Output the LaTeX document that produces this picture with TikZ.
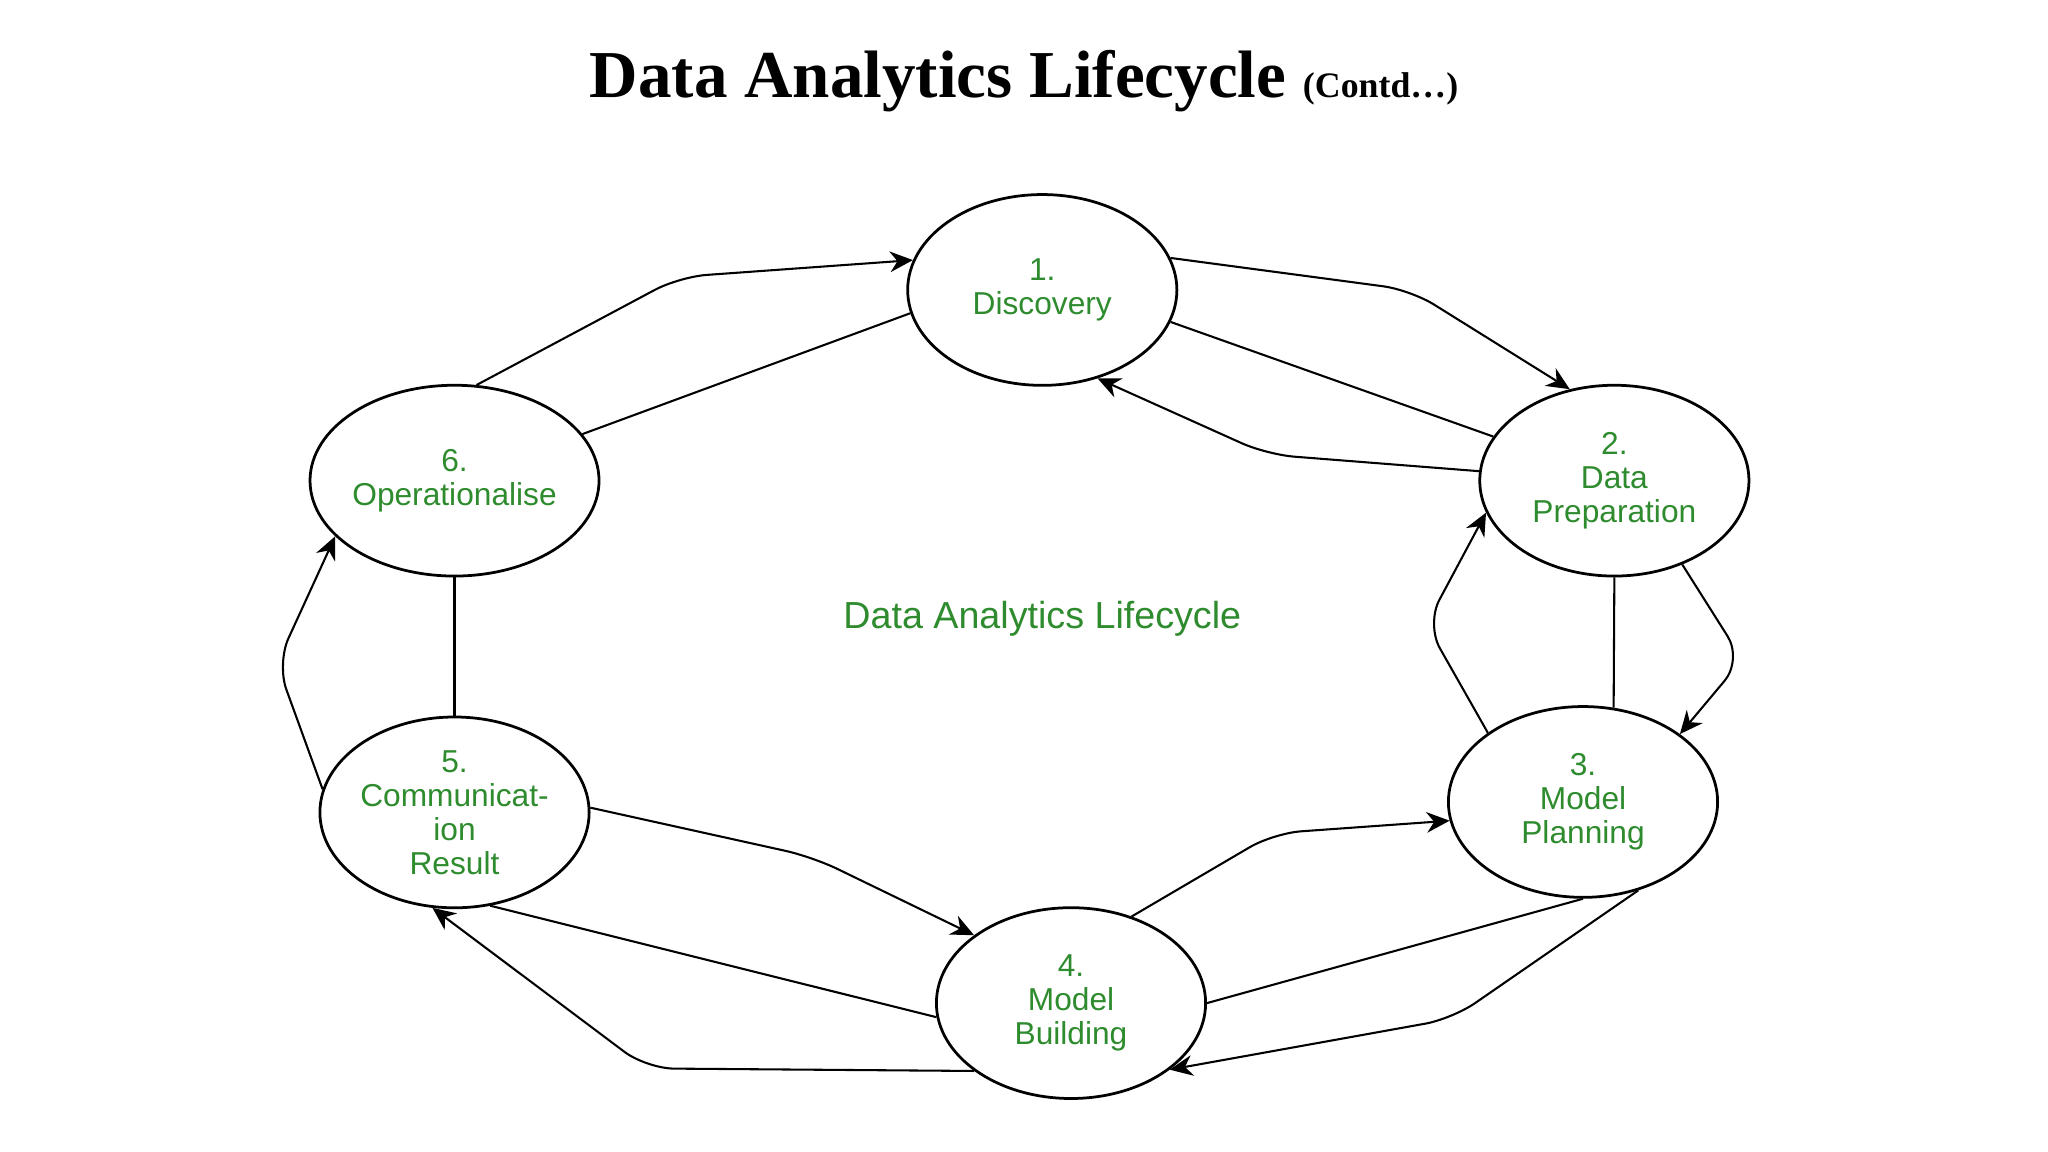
\documentclass[tikz,border=0pt]{standalone}
\usepackage{fontspec}
\setmainfont{Liberation Serif}
\newfontfamily\lsans{Liberation Sans}
\usetikzlibrary{shapes.geometric,arrows.meta}
\definecolor{lbl}{HTML}{2E8B2E}
\begin{document}
\begin{tikzpicture}[x=0.01cm,y=-0.01cm,
  st/.style={ellipse,draw,line width=0.6pt,minimum width=2.06cm,minimum height=1.46cm,inner sep=0pt,align=center,text=lbl,font=\lsans\fontsize{6.9}{7.4}\selectfont},
  ln/.style={draw,line width=0.45pt,rounded corners=6pt},
  ar/.style={ln,-{Stealth[length=5pt,width=4.5pt]}}]
\useasboundingbox (0,0) rectangle (1568,882);
\node[font=\bfseries\fontsize{14.6}{16}\selectfont] (t) at (784,62) {Data Analytics Lifecycle {\fontsize{7.8}{9}\selectfont (Contd\dots)}};
\node[st] (n1) at (798,222) {1.\\Discovery};
\node[st] (n2) at (1236,368) {2.\\Data\\Preparation};
\node[st] (n3) at (1212,614) {3.\\Model\\Planning};
\node[st] (n4) at (820,768) {4.\\Model\\Building};
\node[st] (n5) at (348,622) {5.\\Communicat-\\ion\\Result};
\node[st] (n6) at (348,368) {6.\\Operationalise};
\node[text=lbl,font=\lsans\fontsize{8.2}{9}\selectfont] (c) at (798,474) {Data Analytics Lifecycle};
\draw[ar] (n6.77) -- (520,212) -- (n1.167);
\draw[ln] (n1.190) -- (n6.20);
\draw[ar] (n1.14) -- (1080,222) -- (n2.116);
\draw[ln] (n1.-14) -- (n2.160);
\draw[ar] (n2.176) -- (970,348) -- (n1.-58);
\draw[ln] (n2.south) -- (n3.72);
\draw[ar] (n2.-51) -- (1334,505) -- (n3.35);
\draw[ar] (n3.144) -- (1092,478) -- (n2.194);
\draw[ar] (n4.55) -- (975,638) -- (n3.188);
\draw[ln] (n3.270) -- (n4.0);
\draw[ar] (n3.-58) -- (1112,780) -- (n4.-34);
\draw[ar] (n5.2) -- (622,656) -- (n4.145);
\draw[ln] (n4.186) -- (n5.-69);
\draw[ar] (n4.215) -- (495,818) -- (n5.257);
\draw[ln] (n6.south) -- (n5.north);
\draw[ar] (n5.170) -- (212,508) -- (n6.205);
\end{tikzpicture}
\end{document}
